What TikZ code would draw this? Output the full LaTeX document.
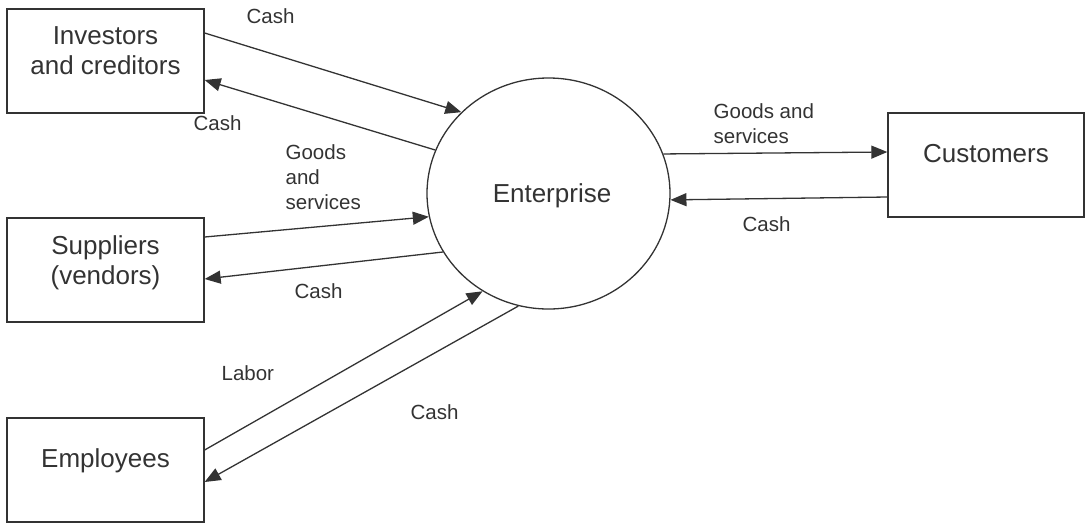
\documentclass[tikz,border=0pt]{standalone}
\usepackage{fontspec}
\setmainfont{Liberation Sans}
\usetikzlibrary{arrows.meta,shapes.geometric}

\begin{document}
\begin{tikzpicture}[x=1pt, y=-1pt, color=black!80, line width=1.3pt, >={Triangle[length=16pt,width=13pt]},
  block/.style={rectangle, draw, minimum width=197pt, minimum height=104pt, inner sep=0pt},
  blocktext/.style={align=center, inner sep=0pt, font=\fontsize{26}{30}\selectfont},
  flow/.style={align=left, inner sep=0pt, font=\fontsize{20.5}{25}\selectfont}]
  {
  \useasboundingbox (0,0) rectangle (1085,523);
  \node[block] (inv) at (105.5,61) {};
  \node[block] (sup) at (105.5,270) {};
  \node[block] (emp) at (105.5,470) {};
  \node[block, minimum width=196pt] (cust) at (986,165) {};
  \node[ellipse, draw, minimum width=243pt, minimum height=231pt, inner sep=0pt] (ent) at (548.5,193.5) {};

  \node[blocktext] (invtext) at (105.5,50.5) {Investors\\and creditors};
  \node[blocktext] (suptext) at (105.5,263) {Suppliers\\(vendors)};
  \node[blocktext] (emptext) at (105.5,461) {Employees};
  \node[blocktext] (custtext) at (986,153.5) {Customers};
  \node[blocktext] (enttext) at (552,195.5) {Enterprise};

  \draw[->] ([yshift=28pt]inv.east) -- (ent.137.7);
  \draw[->] (ent.159.9) -- ([yshift=-19pt]inv.east);
  \draw[->] ([yshift=33pt]sup.east) -- (ent.191.5);
  \draw[->] (ent.209) -- ([yshift=-9pt]sup.east);
  \draw[->] ([yshift=20pt]emp.east) -- (ent.236.6);
  \draw[->] (ent.255.1) -- ([yshift=-12pt]emp.east);
  \draw[->] (ent.19.9) -- ([yshift=13pt]cust.west);
  \draw[->] ([yshift=-32pt]cust.west) -- (ent.357.9);

  \node[flow, anchor=base west] (invin) at (246,23) {Cash};
  \node[flow, anchor=base west] (invout) at (193,130) {Cash};
  \node[flow, anchor=north west] (supin) at (285,144) {Goods\\and\\services};
  \node[flow, anchor=base west] (supout) at (294,298) {Cash};
  \node[flow, anchor=base west] (empin) at (221,380) {Labor};
  \node[flow, anchor=base west] (empout) at (410,419) {Cash};
  \node[flow, anchor=north west] (custout) at (713,103) {Goods and\\services};
  \node[flow, anchor=base west] (custin) at (742,231) {Cash};
  }
\end{tikzpicture}
\end{document}
